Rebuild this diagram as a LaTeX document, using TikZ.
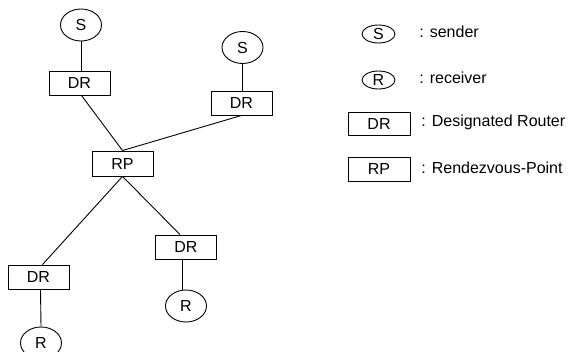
\documentclass[tikz,border=0pt]{standalone}
\usepackage{fontspec}
\setmainfont{Liberation Sans}
\usetikzlibrary{shapes.geometric}
\begin{document}
\begin{tikzpicture}[x=1pt,y=-1pt,line width=0.9pt,
  font=\fontsize{16}{19}\selectfont,
  box/.style={draw,rectangle,minimum width=61pt,minimum height=24pt,inner sep=0pt},
  host/.style={draw,ellipse,minimum width=41pt,minimum height=32pt,inner sep=0pt},
  lhost/.style={draw,ellipse,minimum width=33pt,minimum height=18pt,inner sep=0pt},
  legtext/.style={anchor=west,inner sep=0pt}]
\useasboundingbox (0,0) rectangle (573,352);
\clip (0,0) rectangle (573,352);
% tree
\node[host] (s1) at (81,25) {S};
\node[box] (dr1) at (79.5,83) {DR};
\node[host] (s2) at (242.5,47.5) {S};
\node[box] (dr2) at (241.5,103) {DR};
\node[box,minimum height=25pt] (rp) at (122.5,163.5) {RP};
\node[box] (dr4) at (186,247) {DR};
\node[box] (dr3) at (38.5,277) {DR};
\node[host] (r4) at (186,306) {R};
\node[host] (r3) at (41,343) {R};
\draw (s1.south) -- (s1.south |- dr1.north);
\draw (s2.south) -- (s2.south |- dr2.north);
\draw ([xshift=2pt]dr1.south) -- (rp.north);
\draw (dr2.south) -- (rp.north);
\draw (rp.south) -- ([xshift=4pt]dr3.north);
\draw (rp.south) -- ([xshift=-6pt]dr4.north);
\draw ([xshift=2pt]dr3.south) -- (r3.north);
\draw ([xshift=-4pt]dr4.south) -- ([xshift=-4pt]dr4.south |- r4.north);
% legend
\node[lhost] (ls) at (378.5,34) {S};
\node[lhost] (lr) at (378.5,80) {R};
\node[box,minimum width=62pt,minimum height=23pt] (ldr) at (379,123.5) {DR};
\node[box,minimum width=62pt,minimum height=24pt] (lrp) at (379,169) {RP};
\node[legtext] (ts) at (419,32) {: sender};
\node[legtext] (tr) at (419,78) {: receiver};
\node[legtext] (tdr) at (421,122) {: Designated Router};
\node[legtext] (trp) at (421,168) {: Rendezvous-Point};
\end{tikzpicture}
\end{document}
